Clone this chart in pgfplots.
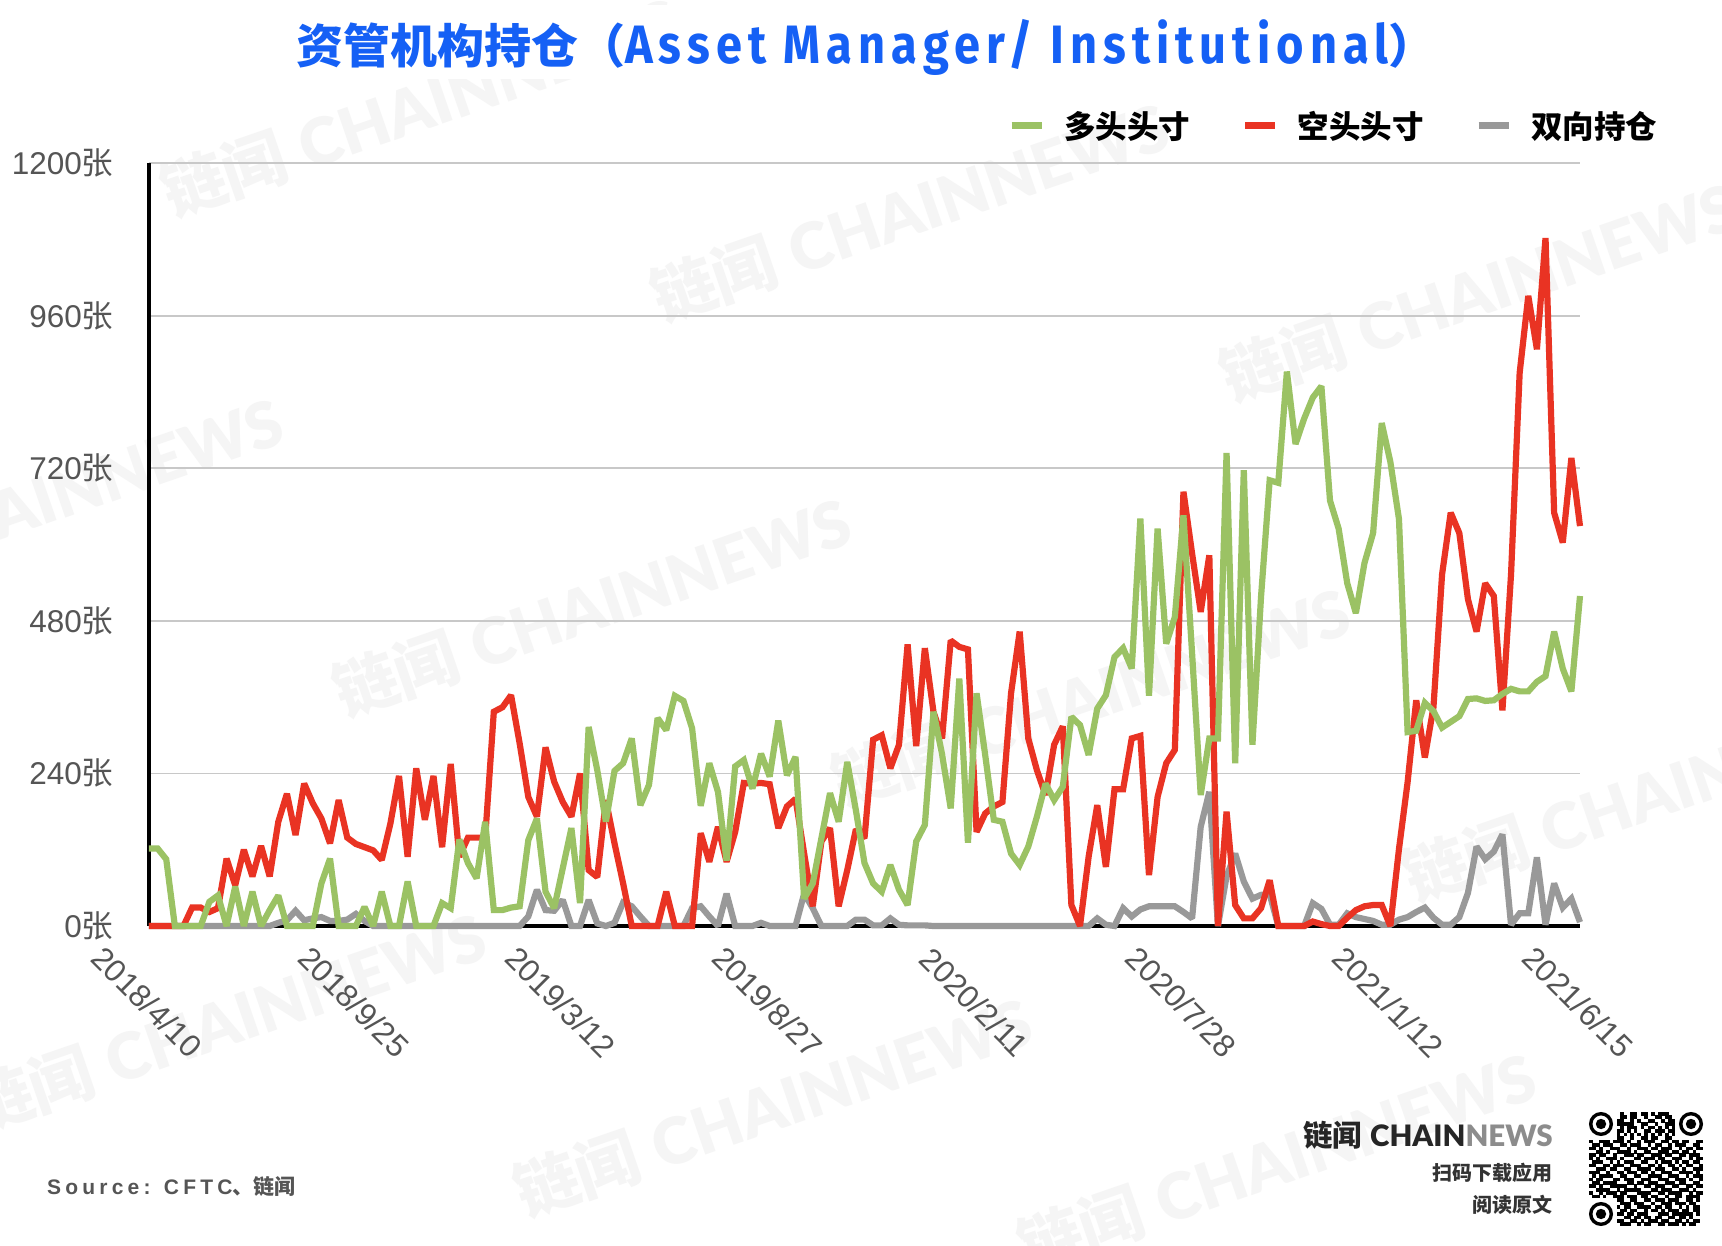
\documentclass[border=0pt]{standalone}
\usepackage{graphicx}
\usepackage{pgfplots}
\usepackage{pgfplotstable}
\pgfplotsset{compat=1.18}
\usepackage{fontspec}
\setmainfont{Liberation Sans}
\newfontfamily\cjk{Noto Sans CJK SC}
\newfontfamily\lato[BoldFont={Lato Black}]{Lato}
\newfontfamily\titlelat[LetterSpace=13]{Fira Sans}
\newfontfamily\srcfont[LetterSpace=20]{Liberation Sans}
\definecolor{cgreen}{HTML}{9BC264}
\definecolor{cred}{HTML}{E93323}
\definecolor{cgray}{HTML}{999999}
\definecolor{ctitle}{HTML}{1560F5}
\definecolor{cgrid}{HTML}{C8C8C8}
\definecolor{ctick}{HTML}{555555}
\definecolor{cwm}{HTML}{F5F5F5}
\pgfplotstableread{
i g r a
0 122 0 0
1 122 0 0
2 105 0 0
3 0 0 0
4 0 0 0
5 0 29 0
6 0 29 0
7 38 22 0
8 48 28 0
9 0 106 0
10 62 64 0
11 0 120 0
12 54 78 0
13 0 126 0
14 25 78 0
15 48 164 5
16 0 208 9
17 0 143 24
18 0 224 9
19 0 193 12
20 67 169 14
21 106 130 8
22 0 198 8
23 0 139 10
24 0 129 19
25 30 124 8
26 0 119 0
27 54 104 0
28 0 161 0
29 0 236 0
30 70 109 0
31 0 248 0
32 0 167 0
33 0 236 0
34 36 124 0
35 28 255 0
36 136 109 0
37 99 139 0
38 75 139 0
39 164 139 0
40 25 337 0
41 25 344 0
42 29 363 0
43 31 287 0
44 135 203 15
45 169 172 57
46 54 281 25
47 28 227 24
48 91 195 41
49 154 172 0
50 36 240 0
51 313 88 41
52 245 77 4
53 164 198 0
54 244 130 5
55 256 67 37
56 295 0 31
57 190 0 15
58 222 0 0
59 327 0 0
60 308 54 0
61 362 0 0
62 354 0 0
63 311 0 28
64 189 146 31
65 256 101 15
66 211 156 0
67 103 101 51
68 251 148 0
69 261 225 0
70 216 224 0
71 271 225 5
72 235 223 0
73 323 154 0
74 237 188 0
75 266 200 0
76 43 114 51
77 67 31 28
78 138 133 0
79 209 154 0
80 164 31 0
81 258 88 0
82 182 152 10
83 99 138 10
84 67 293 1
85 54 300 1
86 96 248 12
87 57 285 2
88 33 443 1
89 133 283 1
90 159 437 1
91 337 337 0
92 270 295 0
93 185 449 0
94 389 439 0
95 131 435 0
96 366 148 0
97 269 177 0
98 167 188 0
99 164 195 0
100 114 366 0
101 96 463 0
102 125 295 0
103 172 245 0
104 224 206 0
105 198 285 0
106 219 314 0
107 329 33 0
108 316 0 0
109 269 109 0
110 342 190 12
111 363 93 2
112 423 215 0
113 437 215 28
114 405 295 15
115 641 299 26
116 362 80 31
117 625 203 31
118 444 256 31
119 486 277 31
120 646 683 22
121 429 586 12
122 206 494 156
123 295 583 211
124 295 0 0
125 744 180 78
126 256 33 114
127 717 12 70
128 285 12 43
129 518 28 49
130 701 72 50
131 697 0 0
132 872 0 0
133 758 0 0
134 798 0 0
135 831 7 36
136 849 3 27
137 669 0 2
138 625 0 2
139 539 13 20
140 492 25 14
141 571 31 11
142 618 33 8
143 791 33 2
144 730 0 2
145 640 121 10
146 305 226 14
147 307 355 22
148 351 265 29
149 338 344 13
150 312 553 2
151 321 650 2
152 330 618 14
153 357 514 52
154 358 463 125
155 354 539 105
156 355 519 117
157 365 339 144
158 373 553 2
159 369 870 20
160 369 991 20
161 384 907 108
162 393 1082 2
163 463 650 67
164 405 603 29
165 369 736 43
166 519 629 6
}\datatable
\newcount\qrc
\def\qrbits#1{\ifx#1.\let\qrnext\relax\else\if#11\fill[black] ({1589+3.45*\the\qrc},{1112+3.45*\qrr}) rectangle +(3.6,3.6);\fi\advance\qrc by 1 \let\qrnext\qrbits\fi\qrnext}
\def\wm#1#2{\node[rotate=19,anchor=west,text=cwm,inner sep=0pt,font=\fontsize{64}{70}\selectfont\bfseries] at (#1,#2) {{\cjk 链闻} {\lato CHAINNEWS}};}
\begin{document}
\begin{tikzpicture}
\fill[white,use as bounding box] (0pt,0pt) rectangle (1722pt,-1246pt);
\begin{scope}[x=1pt,y=-1pt]
\clip (0,0) rectangle (1722,1246);
\wm{163}{195}\wm{653}{300}\wm{1222}{380}\wm{-233}{595}\wm{335}{695}\wm{834}{785}\wm{1405}{880}\wm{-30}{1110}\wm{516}{1195}\wm{1020}{1250}
\fill[white] (0,5) rectangle (1722,79);
\end{scope}
\begin{axis}[
  at={(149pt,-926pt)},anchor=south west,
  scale only axis,width=1431pt,height=763pt,
  xmin=0,xmax=166,ymin=0,ymax=1200,
  clip=false,
  axis x line*=bottom,axis y line*=left,
  axis line style={-,black,line width=3.4pt},
  major tick length=0pt,
  xtick={0,24,48,72,96,120,144,166},
  xticklabels={2018/4/10,2018/9/25,2019/3/12,2019/8/27,2020/2/11,2020/7/28,2021/1/12,2021/6/15},
  ytick={0,240,480,720,960,1200},
  yticklabels={0{\cjk 张},240{\cjk 张},480{\cjk 张},720{\cjk 张},960{\cjk 张},1200{\cjk 张}},
  tick label style={font=\fontsize{31.5}{33}\selectfont,text=ctick},
  xticklabel style={rotate=-45,anchor=center,xshift=52.3pt,yshift=-55.2pt},
  yticklabel style={anchor=east,xshift=-32pt},
  ymajorgrids,grid style={cgrid,line width=1.8pt},
  legend columns=3,reverse legend,
  legend style={at={(axis description cs:0.6003,1.0485)},anchor=west,draw=none,fill=none,inner sep=0pt,
    nodes={inner sep=0pt,anchor=west},font=\fontsize{31.5}{33}\selectfont\bfseries,
    /tikz/every odd column/.style={column sep=19pt},
    /tikz/every even column/.style={column sep=51.5pt}},
  legend image code/.code={\draw[#1,line width=7pt] (0pt,0pt) -- (30pt,0pt);},
]
\addplot[cgray,line width=6.2pt,miter limit=2,no markers] table[x=i,y=a] {\datatable};
\addlegendentry{{\cjk 双向持仓}}
\addplot[cred,line width=6.2pt,miter limit=2,no markers] table[x=i,y=r] {\datatable};
\addlegendentry{{\cjk 空头头寸}}
\addplot[cgreen,line width=6.2pt,miter limit=2,no markers] table[x=i,y=g] {\datatable};
\addlegendentry{{\cjk 多头头寸}}
\end{axis}
\begin{scope}[x=1pt,y=-1pt]
\node[anchor=west,inner sep=0pt,text=ctitle,font=\fontsize{47}{50}\selectfont\bfseries] at (296,47) {{\cjk 资管机构持仓（}\scalebox{1}[1.15]{\titlelat Asset Manager/ Institutional}{\cjk ）}};
\node[anchor=west,inner sep=0pt,text=ctick,font=\fontsize{21}{24}\selectfont\bfseries] at (47,1187) {{\srcfont Source: CFTC}{\cjk 、链闻}};
\node[anchor=east,inner sep=0pt,font=\fontsize{29.5}{32}\selectfont\bfseries,text=black!85] at (1553,1135) {{\cjk 链闻} {\lato CHAIN\textcolor{black!45}{NEWS}}};
\node[anchor=east,inner sep=0pt,font=\fontsize{20}{24}\selectfont\bfseries,text=black!80] at (1553,1173) {\cjk 扫码下载应用};
\node[anchor=east,inner sep=0pt,font=\fontsize{20}{24}\selectfont\bfseries,text=black!80] at (1553,1205) {\cjk 阅读原文};
% QR code
\foreach \cx/\cy in {1601/1124,1691/1124,1601/1214}{
  \draw[black,line width=3.4pt] (\cx,\cy) circle (10.3);
  \fill[black] (\cx,\cy) circle (5.2);
}
\foreach \qrr/\bits in {
0/00000000010011011010111000000000,
1/00000000011011001001101100000000,
2/00000000110010100110010110000000,
3/00000000111110011001001110000000,
4/00000000010111010110101010000000,
5/00000000110101001101110110000000,
6/00000000101010101010101010000000,
7/00000000110010011011001100000000,
8/100111011101001011100110110110011,
9/011011100110111001011001011100110,
10/110100111001001110110111001011011,
11/001101001111010011001110110110100,
12/110110010011101100111011001101110,
13/101001110100011011101100111001011,
14/011100101011100110010111010110110,
15/110011011100111001101001101011001,
16/001110110011001111011100110100111,
17/111001001101110110100111001111010,
18/010111100110011001111001110010111,
19/101100011011100111001110011101001,
20/011011110001101101110011101100110,
21/110100111110010011011100110011011,
22/001111001011111000110111001110100,
23/100101110110001111001101111001011,
24/011010011101110110110010011011110,
25/00000000110011001101110111001101,
26/00000000011101110010011101110110,
27/00000000101100111101101100101011,
28/00000000011011001011010111011011,
29/00000000110110111000111011111101,
30/00000000001101101101100110110100,
31/00000000110011010111011001101011,
32/00000000011100101100110111010110}{
  \qrc=0 \expandafter\qrbits\bits.
}
\end{scope}
\end{tikzpicture}
\end{document}
